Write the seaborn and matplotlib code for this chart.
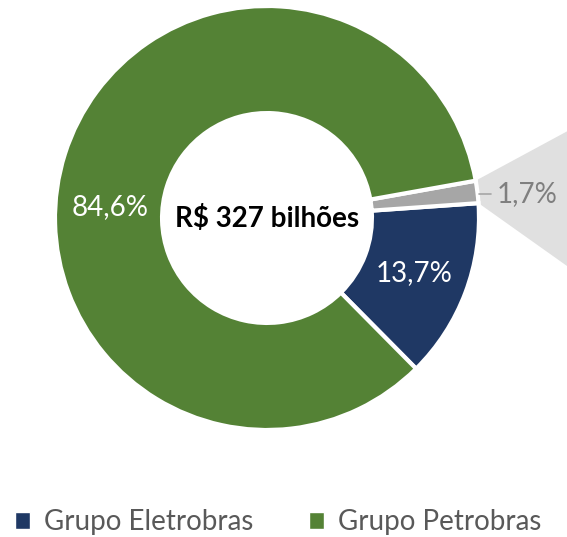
import numpy as np
import matplotlib
matplotlib.use("Agg")
import matplotlib.pyplot as plt
from matplotlib.patches import Patch, Polygon
import seaborn as sns

# dados do grafico
grupos = ["Grupo Eletrobras", "Outros", "Grupo Petrobras"]
valores = [13.7, 1.7, 84.6]
rotulos = ["13,7%", "1,7%", "84,6%"]
cores = ["#1f3864", "#a6a6a6", "#548235"]
total_txt = "R$ 327 bilhões"
legenda = ["Grupo Eletrobras", "Grupo Petrobras"]

sns.set_theme(style="white")
plt.rcParams['font.family'] = ['Lato', 'DejaVu Sans']

fig = plt.figure(figsize=(5.67, 5.37), dpi=100)
ax = fig.add_axes([0, 0, 1, 1])

cx, cy, r = 267, 319, 212
start = -45.3
wedges, _ = ax.pie(valores, colors=cores, startangle=start, counterclock=True,
                   radius=r, center=(cx, cy), frame=True,
                   wedgeprops=dict(width=r * 0.505, edgecolor="white", linewidth=3))
ax.set_xlim(0, 567)
ax.set_ylim(0, 537)
ax.set_aspect("equal")
ax.axis("off")

# angulos das fatias
bounds = start + np.concatenate([[0], np.cumsum(valores)]) * 3.6

# "cone" cinza ligando a fatia pequena ao grafico de fora
a0, a1 = np.radians(bounds[1]), np.radians(bounds[2])
p_top = (cx + r * np.cos(a1), cy + r * np.sin(a1))
p_bot = (cx + r * np.cos(a0), cy + r * np.sin(a0))
cone = Polygon([p_top, (600, p_top[1] + 0.54 * (600 - p_top[0])),
                (600, p_bot[1] - 0.71 * (600 - p_bot[0])), p_bot],
               closed=True, facecolor="#e0e0e0", edgecolor="none", zorder=0)
ax.add_patch(cone)

# rotulos internos (o do Petrobras fica deslocado como no original)
r_lab = r * 0.74
ang_lab = {0: np.radians((bounds[0] + bounds[1]) / 2), 2: np.radians(176)}
for i, a in ang_lab.items():
    ax.text(cx + r_lab * np.cos(a), cy + r_lab * np.sin(a), rotulos[i],
            color="white", fontsize=20, ha="center", va="center")
# rotulo externo da fatia pequena
mid = np.radians((bounds[1] + bounds[2]) / 2)
ly = cy + r * np.sin(mid) - 2
ax.plot([cx + r * np.cos(mid) + 2, cx + r * np.cos(mid) + 14], [ly, ly],
        color="#a6a6a6", lw=1.2)
ax.text(cx + r * np.cos(mid) + 19, ly, rotulos[1], color="#7f7f7f",
        fontsize=20, ha="left", va="center")

ax.text(cx, cy - 1, total_txt, fontsize=20, fontweight="bold", color="black",
        ha="center", va="center")

handles = [Patch(facecolor=cores[0]), Patch(facecolor=cores[2])]
fig.legend(handles, legenda, loc="center", bbox_to_anchor=(0.49, 0.028), ncol=2,
           frameon=False, fontsize=20, handlelength=0.55, handleheight=0.55,
           handletextpad=0.5, columnspacing=2.0, labelcolor="#595959",
           borderaxespad=0, borderpad=0)

fig.savefig("out.png", dpi=100)
